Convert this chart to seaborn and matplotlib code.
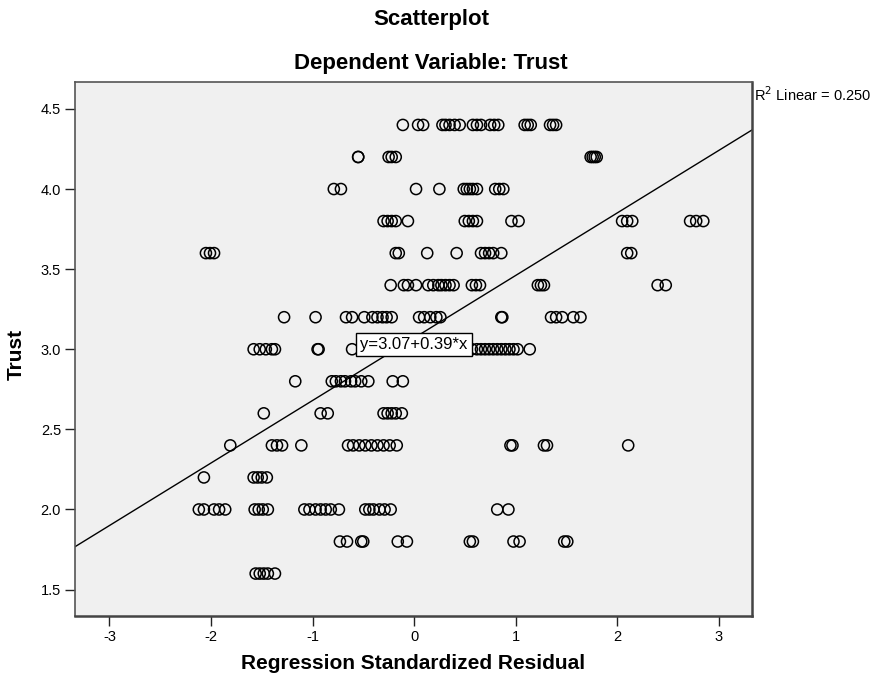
import numpy as np
import pandas as pd
import matplotlib
matplotlib.use("Agg")
import matplotlib.pyplot as plt
import seaborn as sns

# Regression standardized residuals, grouped by Trust score
resid_4_4 = [-0.11, 0.04, 0.09, 0.28, 0.31, 0.35, 0.40, 0.45, 0.58, 0.62, 0.66,
             0.75, 0.79, 0.83, 1.09, 1.12, 1.15, 1.34, 1.37, 1.40]
resid_4_2 = [-0.55, -0.55, -0.25, -0.22, -0.18, 1.74, 1.76, 1.78, 1.80]
resid_4_0 = [-0.79, -0.72, 0.02, 0.25, 0.49, 0.52, 0.55, 0.58, 0.62, 0.80, 0.84, 0.88]
resid_3_8 = [-0.30, -0.26, -0.22, -0.18, -0.06, 0.50, 0.54, 0.58, 0.62, 0.96, 1.03,
             2.05, 2.10, 2.15, 2.72, 2.78, 2.85]
resid_3_6 = [-2.05, -2.01, -1.97, -0.18, -0.15, 0.13, 0.42, 0.66, 0.70, 0.74, 0.78,
             0.86, 2.10, 2.14]
resid_3_4 = [-0.23, -0.10, -0.06, 0.02, 0.14, 0.19, 0.24, 0.27, 0.31, 0.35, 0.39,
             0.57, 0.61, 0.65, 1.22, 1.25, 1.28, 2.40, 2.48]
resid_3_2 = [-1.28, -0.97, -0.67, -0.61, -0.49, -0.41, -0.36, -0.31, -0.27, -0.22,
             0.05, 0.10, 0.16, 0.22, 0.26, 0.86, 0.87, 1.35, 1.40, 1.46, 1.57, 1.64]
resid_3_0 = [-1.58, -1.52, -1.46, -1.40, -1.37, -0.95, -0.94, -0.61, -0.50, -0.40,
             -0.30, -0.22, -0.10, 0.00, 0.08, 0.20, 0.30, 0.42, 0.50, 0.57, 0.62,
             0.66, 0.70, 0.74, 0.78, 0.82, 0.86, 0.90, 0.94, 0.98, 1.02, 1.14]
resid_2_8 = [-1.17, -0.81, -0.77, -0.72, -0.68, -0.62, -0.58, -0.52, -0.45, -0.21, -0.11]
resid_2_6 = [-1.48, -0.92, -0.85, -0.30, -0.26, -0.22, -0.18, -0.12]
resid_2_4 = [-1.81, -1.40, -1.35, -1.30, -1.11, -0.65, -0.60, -0.54, -0.48, -0.42,
             -0.36, -0.30, -0.24, -0.17, 0.95, 0.97, 1.28, 1.31, 2.11]
resid_2_2 = [-2.07, -1.58, -1.54, -1.50, -1.45]
resid_2_0 = [-2.12, -2.07, -1.97, -1.92, -1.86, -1.57, -1.53, -1.49, -1.44, -1.08,
             -1.03, -0.97, -0.92, -0.87, -0.82, -0.74, -0.48, -0.44, -0.40, -0.34,
             -0.29, -0.23, 0.82, 0.93]
resid_1_8 = [-0.73, -0.66, -0.52, -0.50, -0.16, -0.07, 0.55, 0.58, 0.98, 1.04, 1.48, 1.51]
resid_1_6 = [-1.56, -1.52, -1.48, -1.44, -1.37]

trust_levels = [4.4, 4.2, 4.0, 3.8, 3.6, 3.4, 3.2, 3.0, 2.8, 2.6, 2.4, 2.2, 2.0, 1.8, 1.6]
resid_groups = [resid_4_4, resid_4_2, resid_4_0, resid_3_8, resid_3_6, resid_3_4,
                resid_3_2, resid_3_0, resid_2_8, resid_2_6, resid_2_4, resid_2_2,
                resid_2_0, resid_1_8, resid_1_6]

# fit line as reported
intercept = 3.07
slope = 0.39
r2_linear = 0.250

x_ticks = [-3, -2, -1, 0, 1, 2, 3]
y_ticks = [1.5, 2.0, 2.5, 3.0, 3.5, 4.0, 4.5]

df = pd.DataFrame(
    {
        "resid": [r for grp in resid_groups for r in grp],
        "trust": [t for t, grp in zip(trust_levels, resid_groups) for _ in grp],
    }
)

sns.set_theme(style="ticks")
plt.rcParams["font.family"] = ["Liberation Sans", "DejaVu Sans"]
plt.rcParams["text.color"] = "black"
plt.rcParams["axes.labelcolor"] = "black"
plt.rcParams["xtick.color"] = "black"
plt.rcParams["ytick.color"] = "black"

fig = plt.figure(figsize=(8.77, 6.86), dpi=100)
ax = fig.add_axes([0.0855, 0.102, 0.772, 0.778])
ax.set_facecolor("#f0f0f0")

sns.scatterplot(data=df, x="resid", y="trust", ax=ax, s=64,
                facecolors="none", edgecolor="black", linewidth=1.1)
ax.collections[0].set_facecolor("none")

ax.axline((0, intercept), slope=slope, color="black", lw=1.0)

ax.set_xlim(-3.34, 3.33)
ax.set_ylim(1.335, 4.666)
ax.set_xticks(x_ticks)
ax.set_xticklabels([str(t) for t in x_ticks])
ax.set_yticks(y_ticks)
ax.set_yticklabels([f"{t:.1f}" for t in y_ticks])
ax.tick_params(axis="both", direction="out", length=7, width=1.0, color="#222222",
               labelsize=10.5, pad=3)

for side in ["left", "top"]:
    ax.spines[side].set_color("#555555")
    ax.spines[side].set_linewidth(1.2)
for side in ["right", "bottom"]:
    ax.spines[side].set_color("#444444")
    ax.spines[side].set_linewidth(1.8)

ax.set_xlabel("Regression Standardized Residual", fontsize=15, fontweight="bold")
ax.set_ylabel("Trust", fontsize=15, fontweight="bold")
ax.xaxis.set_label_coords(0.5, -0.072)
ax.yaxis.set_label_coords(-0.073, 0.49)

fig.text(0.4915, 0.971, "Scatterplot", ha="center", va="center",
         fontsize=16, fontweight="bold")
fig.text(0.4915, 0.908, "Dependent Variable: Trust", ha="center", va="center",
         fontsize=16, fontweight="bold")

ax.text(1.003, 0.995, f"R$^2$ Linear = {r2_linear:.3f}", transform=ax.transAxes,
        ha="left", va="top", fontsize=10.5)

ax.text(0.0, 3.03, f"y={intercept:.2f}+{slope:.2f}*x", ha="center", va="center",
        fontsize=12, zorder=5,
        bbox=dict(boxstyle="square,pad=0.25", facecolor="white", edgecolor="black", lw=1.0))

fig.savefig("out.png", dpi=100)
